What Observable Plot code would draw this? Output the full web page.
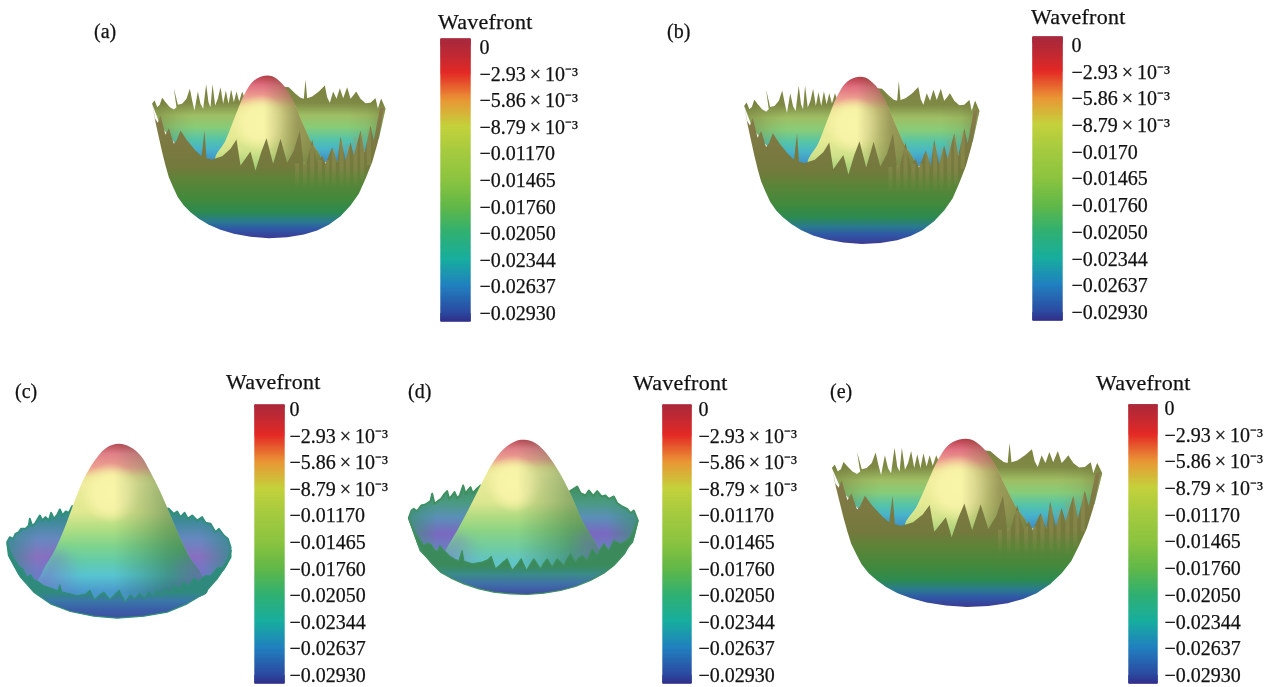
<!DOCTYPE html>
<html><head><meta charset="utf-8">
<script src="https://cdn.jsdelivr.net/npm/d3@7"></script>
<script src="https://cdn.jsdelivr.net/npm/@observablehq/plot@0.6"></script>
<style>
html,body{margin:0;background:#fff;overflow:hidden}
#page{position:relative;width:1277px;height:687px;font-family:"Liberation Serif",serif;color:#111}
#page svg{position:absolute;overflow:visible;background:none}
#page svg.cb g[aria-label="rect"]{filter:blur(0.6px)}
#page svg.cb g[aria-label="text"]{filter:blur(0.25px);stroke:#111;stroke-width:0.25px}
.t{position:absolute;white-space:nowrap;font-size:20px;line-height:20px;filter:blur(0.25px);-webkit-text-stroke:0.25px #111}
</style></head><body><div id="page"></div>
<script>
// colour bar
const tickValues=[0,-0.00293,-0.00586,-0.00879,-0.0117,-0.01465,-0.0176,-0.0205,-0.02344,-0.02637,-0.0293];
const sup="\u2009\u00d7\u200910\u207b\u00b3";
const tickLabels=["0","\u22122.93"+sup,"\u22125.86"+sup,"\u22128.79"+sup,"\u22120.01170","\u22120.01465","\u22120.01760","\u22120.02050","\u22120.02344","\u22120.02637","\u22120.02930"];
const tickLabelsB=tickLabels.map((d,i)=>i===4?"\u22120.0170":d);
const barStops=[0.0009,0.0002,-0.0012,-0.00293,-0.00586,-0.00879,-0.0117,-0.01465,-0.0176,-0.0205,-0.02344,-0.02637,-0.0293,-0.0302];
const barColors=["#a82c40","#ae2a3a","#c42a32","#e42a26","#ea9636","#c4d23c","#a4ca40","#8cc440","#62b848","#30b072","#18ae9e","#2180c0","#2c4aa0","#33338c"];

// panels a, b, e share this shape
const bowlBack=[[35,115],[42,105],[50,125],[58,118],[65,97],[75,110],[88,125],[100,132],[108,125],[100,68],[112,118],[125,115],[138,100],[148,70],[155,105],[162,135],[172,78],[180,115],[188,130],[197,56],[204,110],[210,125],[216,56],[224,120],[232,100],[240,65],[248,115],[256,75],[264,115],[272,72],[280,110],[288,78],[296,108],[305,78],[315,105],[325,75],[400,60],[445,65],[465,85],[480,97],[490,100],[495,42],[500,98],[515,93],[535,78],[553,60],[560,95],[568,112],[578,78],[588,100],[598,68],[608,98],[620,65],[630,100],[640,88],[647,78],[660,100],[675,113],[690,112],[705,98],[712,130],[722,100],[735,130],[715,220],[640,285],[400,300],[150,290],[60,180]];
const bowlHump=[[225,285],[255,225],[285,150],[310,90],[335,50],[365,32],[395,32],[425,55],[455,100],[485,170],[510,225],[540,285],[400,320]];
const bowlFront=[[35,115],[44,160],[52,172],[60,150],[75,208],[85,188],[100,235],[108,225],[120,195],[140,225],[165,255],[183,272],[192,195],[198,278],[215,282],[245,272],[270,250],[288,222],[300,300],[330,258],[345,315],[362,260],[378,218],[398,295],[420,220],[440,292],[460,255],[478,195],[490,300],[500,285],[515,222],[530,290],[545,270],[555,295],[575,245],[590,290],[600,212],[615,285],[630,230],[640,270],[660,195],[672,260],[690,180],[700,225],[718,130],[730,125],[722,180],[712,230],[695,290],[675,340],[655,385],[630,420],[600,452],[565,478],[530,495],[490,507],[440,515],[385,518],[330,514],[280,505],[240,493],[205,478],[175,460],[150,440],[130,420],[112,395],[98,365],[85,335],[75,300],[65,260],[55,215],[45,170]];
const bowlFins=[[470,295,370],[493,290,370],[515,240,370],[538,285,370],[560,285,370],[580,255,370],[603,230,370],[622,240,370],[645,215,370],[665,205,345],[685,195,300]];
const bowlBackStops=[[45,"#7d7f3f"],[112,"#7f8a45"],[150,"#9fbf64"],[185,"#88cc78"],[222,"#55c4a8"],[250,"#48b4c8"],[285,"#3f90c8"]];
const bowlHumpStops=[[32,"#b8404c"],[60,"#e07080"],[95,"#eea090"],[125,"#ece294"],[150,"#eeec9c"],[215,"#e6ea94"],[260,"#d0e28a"],[300,"#a8d078"]];
const bowlFrontStops=[[115,"#8a7a4c"],[300,"#74793c"],[345,"#5c8438"],[400,"#42893c"],[440,"#2c8a50"],[468,"#2a7a90"],[490,"#2f58a6"],[518,"#3c3a94"]];
const bowlShade=[[370,0],[420,0.22],[470,0.5],[540,0.6]];
const bowlEdge=[[35,0.55],[110,0.15],[160,0],[620,0],[680,0.15],[735,0.55]];
const finFade=[[200,0.3],[300,0.3],[370,0]];

// panel c
const hatBackC=[[20,320],[28,305],[38,310],[45,295],[55,290],[62,280],[75,280],[85,270],[88,250],[95,272],[105,262],[118,240],[125,255],[135,245],[145,255],[152,232],[160,250],[170,238],[178,222],[186,240],[196,228],[205,232],[215,212],[350,200],[505,220],[520,235],[530,228],[540,245],[552,232],[562,250],[575,240],[590,255],[605,245],[615,262],[630,265],[645,290],[655,280],[670,300],[682,310],[690,335],[690,365],[670,400],[620,455],[350,510],[100,460],[55,415],[25,360]];
const hatHumpC=[[105,470],[125,410],[165,340],[195,270],[225,190],[255,120],[290,65],[320,35],[355,25],[390,35],[420,60],[450,110],[480,170],[510,240],[540,310],[570,370],[600,410],[620,470],[400,500],[200,500]];
const hatSkirtC=[[100,445],[125,405],[165,345],[300,400],[450,400],[570,365],[610,400],[620,440],[400,490],[250,490]];
const hatFrontC=[[20,325],[30,350],[42,372],[55,392],[68,402],[78,425],[90,418],[100,432],[112,438],[128,450],[150,458],[172,466],[178,448],[184,470],[205,474],[230,480],[255,476],[268,465],[282,492],[298,478],[310,470],[328,492],[342,478],[356,465],[374,498],[390,478],[402,490],[418,474],[432,488],[445,470],[458,482],[470,465],[482,478],[495,462],[508,472],[522,450],[535,462],[550,440],[565,452],[580,428],[595,438],[615,420],[630,422],[650,398],[668,395],[682,370],[692,345],[680,385],[650,430],[610,475],[560,505],[500,530],[430,542],[350,548],[280,542],[210,528],[150,505],[100,470],[60,425],[30,370]];
const hatBackStopsC=[[215,"#2f8f7a"],[260,"#3f8a9a"],[310,"#6688c0"],[365,"#8a70c0"],[420,"#6a80c8"],[470,"#5a90c8"]];
const hatHumpStopsC=[[25,"#b84a55"],[55,"#e08088"],[95,"#eda090"],[125,"#ece294"],[145,"#eeec9c"],[230,"#e0e890"],[280,"#b0de82"],[330,"#80d48c"],[375,"#64cca8"],[420,"#58c4d0"],[470,"#4a98cc"]];
const hatFrontStopsC=[[360,"#2f8a80"],[470,"#2f8a7c"],[495,"#3a78a8"],[520,"#3a60a8"],[548,"#4050a0"]];
const hatShadeC=[[340,0],[420,0.2],[500,0.42],[590,0.55]];
const hatEdgeC=[[20,0.85],[110,0],[600,0],[690,0.85]];
const hatSkirtStopsC=[[100,0.75],[150,0.45],[240,0],[500,0],[580,0.45],[620,0.75]];

// panel d
const hatBackD=[[25,262],[33,240],[40,235],[48,242],[55,235],[62,225],[75,222],[90,212],[95,190],[102,220],[112,212],[122,205],[132,190],[140,182],[146,205],[155,195],[162,185],[170,203],[178,195],[188,165],[195,190],[203,178],[210,170],[216,188],[226,178],[240,165],[370,150],[505,185],[515,178],[530,168],[540,188],[555,195],[565,180],[578,196],[590,182],[603,198],[615,195],[625,205],[640,198],[650,218],[665,228],[680,235],[690,248],[700,240],[712,270],[695,335],[640,395],[600,430],[370,470],[120,420],[60,360]];
const hatHumpD=[[115,410],[135,360],[170,300],[205,235],[240,165],[275,100],[310,55],[345,32],[372,28],[405,38],[435,65],[470,115],[510,190],[545,270],[590,345],[610,390],[400,440],[200,440]];
const hatSkirtD=[[100,380],[135,350],[165,310],[300,360],[450,350],[560,300],[595,345],[625,385],[400,450],[250,450]];
const hatFrontD=[[25,265],[35,288],[45,310],[58,328],[70,345],[82,338],[92,342],[102,358],[112,362],[118,345],[130,360],[145,375],[160,385],[175,392],[185,360],[190,392],[215,400],[245,395],[262,388],[272,378],[285,415],[302,400],[320,385],[335,420],[350,402],[362,385],[378,420],[390,400],[400,385],[420,415],[430,398],[440,385],[455,410],[470,385],[490,405],[500,385],[510,370],[525,395],[535,382],[545,375],[560,390],[575,355],[590,375],[600,355],[610,340],[625,360],[640,330],[660,340],[675,332],[690,320],[712,270],[700,320],[672,370],[640,405],[610,428],[570,450],[525,468],[480,480],[430,488],[380,492],[330,490],[280,485],[235,475],[190,460],[150,442],[120,425],[95,400],[70,370],[52,340],[38,300]];
const hatBackStopsD=[[170,"#3f9060"],[215,"#4a9a80"],[260,"#5a90b8"],[310,"#7a68c0"],[350,"#6a80c0"],[400,"#5aa0c8"]];
const hatHumpStopsD=[[28,"#b84a55"],[55,"#e08088"],[85,"#eca090"],[112,"#ece294"],[130,"#eeec9c"],[215,"#dce690"],[255,"#b4dc82"],[300,"#8cd484"],[350,"#70cca0"],[395,"#60c4c8"]];
const hatFrontStopsD=[[260,"#3f8a5a"],[405,"#3a8a5c"],[432,"#3a8a8a"],[460,"#3f70a8"],[490,"#3f4fa0"]];
const hatShadeD=[[350,0],[430,0.2],[510,0.4],[590,0.5]];
const hatEdgeD=[[25,0.85],[110,0],[620,0],[712,0.85]];
const hatSkirtStopsD=[[100,0.7],[150,0.42],[240,0],[500,0],[570,0.42],[625,0.7]];

const bowl={back:bowlBack,hump:bowlHump,front:bowlFront,fins:bowlFins,backS:bowlBackStops,humpS:bowlHumpStops,frontS:bowlFrontStops,shade:bowlShade,shadeColor:"#4a4a18",edge:bowlEdge,edgeColor:"#74793c",glow:[360,172,85],rim:null,dom:[750,540]};
const panels=[
 {id:"a",label:"(a)",lx:94,ly:21,shape:bowl,box:[140,65,250,180],bar:[441,470],tickY:[47,313],topV:0.0009,labels:tickLabels,tx:438,ty:12,lab:479},
 {id:"b",label:"(b)",lx:667,ly:21,shape:bowl,box:[731.6,65.7,252,185],bar:[1033,1062],tickY:[45,312],topV:0.0009,labels:tickLabelsB,tx:1031,ty:7,lab:1071},
 {id:"c",label:"(c)",lx:15,ly:381,shape:{back:hatBackC,hump:hatHumpC,skirt:hatSkirtC,skirtS:hatSkirtStopsC,front:hatFrontC,backS:hatBackStopsC,humpS:hatHumpStopsC,frontS:hatFrontStopsC,shade:hatShadeC,shadeColor:"#1f5a30",edge:hatEdgeC,edgeColor:"#3a8a90",glow:[330,172,90],rim:"#2f8f78",dom:[720,570]},box:[0,435,240,190],bar:[255,284],tickY:[409,675],topV:0.00045,labels:tickLabels,tx:226,ty:372,lab:289},
 {id:"d",label:"(d)",lx:408,ly:381,shape:{back:hatBackD,hump:hatHumpD,skirt:hatSkirtD,skirtS:hatSkirtStopsD,front:hatFrontD,backS:hatBackStopsD,humpS:hatHumpStopsD,frontS:hatFrontStopsD,shade:hatShadeD,shadeColor:"#1f5a30",edge:hatEdgeD,edgeColor:"#3f9078",glow:[340,160,85],rim:"#3f9060",dom:[735,570]},box:[400,430,245,190],bar:[663,691],tickY:[409,675],topV:0.00045,labels:tickLabels,tx:633,ty:373,lab:698},
 {id:"e",label:"(e)",lx:830,ly:381,shape:bowl,box:[818.2,428.3,289.5,186],bar:[1129,1157],tickY:[408,675],topV:0.00035,labels:tickLabels,tx:1096,ty:373,lab:1164}
];

const page=document.getElementById("page");
const place=(el,l,t)=>{el.style.left=l+"px";el.style.top=t+"px";page.appendChild(el);return el;};
const xy={x:d=>d[0],y:d=>d[1]};
const skirtColor="#7a6ac4";
function softened(index,scales,values,dimensions,context,next){
  const g=next(index,scales,values,dimensions,context);
  g.style.filter="blur(5px)";
  return g;
}
function gradDefs(id,s){
  return (index,scales)=>{
    const defs=d3.create("svg:defs");
    const lin=(name,stops)=>{
      const a=stops[0][0],b=stops[stops.length-1][0];
      const g=defs.append("linearGradient").attr("id",id+name).attr("gradientUnits","userSpaceOnUse")
        .attr("x1",0).attr("x2",0).attr("y1",scales.y(a)).attr("y2",scales.y(b));
      stops.forEach(([v,c])=>g.append("stop").attr("offset",(v-a)/(b-a)).attr("stop-color",c));
    };
    const hor=(name,stops,color)=>{
      const a=stops[0][0],b=stops[stops.length-1][0];
      const g=defs.append("linearGradient").attr("id",id+name).attr("gradientUnits","userSpaceOnUse")
        .attr("y1",0).attr("y2",0).attr("x1",scales.x(a)).attr("x2",scales.x(b));
      stops.forEach(([v,o])=>g.append("stop").attr("offset",(v-a)/(b-a)).attr("stop-color",color).attr("stop-opacity",o));
    };
    lin("back",s.backS);lin("hump",s.humpS);lin("front",s.frontS);
    hor("shade",s.shade,s.shadeColor);hor("edge",s.edge,s.edgeColor);
    if(s.skirt)hor("skirt",s.skirtS,skirtColor);
    if(s.fins){
      const a=finFade[0][0],b=finFade[finFade.length-1][0];
      const g=defs.append("linearGradient").attr("id",id+"fin").attr("gradientUnits","userSpaceOnUse")
        .attr("x1",0).attr("x2",0).attr("y1",scales.y(a)).attr("y2",scales.y(b));
      finFade.forEach(([v,o])=>g.append("stop").attr("offset",(v-a)/(b-a)).attr("stop-color","#a0a060").attr("stop-opacity",o));
    }
    const [cx,cy,r]=s.glow;
    const rg=defs.append("radialGradient").attr("id",id+"glow").attr("gradientUnits","userSpaceOnUse")
      .attr("cx",scales.x(cx)).attr("cy",scales.y(cy)).attr("r",Math.abs(scales.x(r)-scales.x(0)));
    [[0,1],[0.55,0.9],[1,0]].forEach(([o,a])=>rg.append("stop").attr("offset",o).attr("stop-color","#f8f4a8").attr("stop-opacity",a));
    return defs.node();
  };
}
for(const p of panels){
  const s=p.shape,[l,t,w,h]=p.box,u=`g${p.id}`;
  const surf=Plot.plot({width:w,height:h,margin:0,axis:null,
    x:{domain:[0,s.dom[0]],range:[0,w]},y:{domain:[s.dom[1],0],range:[h,0]},
    marks:[
      gradDefs(u,s),
      Plot.line(s.back,{...xy,curve:"linear-closed",fill:`url(#${u}back)`,stroke:s.rim||"none",strokeWidth:s.rim?2:0}),
      Plot.line(s.back,{...xy,curve:"linear-closed",fill:`url(#${u}edge)`,stroke:"none"}),
      Plot.line(s.hump,{...xy,curve:"catmull-rom-closed",fill:`url(#${u}hump)`,stroke:"none"}),
      Plot.line(s.hump,{...xy,curve:"catmull-rom-closed",fill:`url(#${u}glow)`,stroke:"none"}),
      Plot.line(s.hump,{...xy,curve:"catmull-rom-closed",fill:`url(#${u}shade)`,stroke:"none"}),
      s.skirt?Plot.line(s.skirt,{...xy,curve:"catmull-rom-closed",fill:`url(#${u}skirt)`,stroke:"none",render:softened}):null,
      Plot.line(s.front,{...xy,curve:"linear-closed",fill:`url(#${u}front)`,stroke:s.rim||"none",strokeWidth:s.rim?1.2:0}),
      s.fins?Plot.ruleX(s.fins,{x:d=>d[0],y1:d=>d[1],y2:d=>d[2],stroke:`url(#${u}fin)`,strokeWidth:4}):null
    ]});
  surf.style.filter="blur(0.7px)";
  place(surf,l,t);

  const steps=barStops.flatMap((v,i)=>i?d3.range(24).map(k=>barStops[i-1]+(v-barStops[i-1])*(k+1)/24):[v]).filter(v=>v<=p.topV);
  const bar=d3.pairs([p.topV,...steps]);
  const [y0,y1]=p.tickY;
  const H=y1-y0;
  const cb=Plot.plot({width:p.bar[1]-p.bar[0],height:H,margin:0,axis:null,
    x:{domain:[0,1]},y:{domain:[-0.0293,0],range:[H,0]},
    color:{type:"linear",domain:barStops,range:barColors,clamp:true},
    marks:[
      Plot.rect(bar,{x1:0,x2:1,y1:d=>d[0],y2:d=>d[1],fill:d=>(d[0]+d[1])/2,stroke:d=>(d[0]+d[1])/2,strokeWidth:1}),
      Plot.text(tickValues,{x:1,y:d=>d,text:(d,i)=>p.labels[i],textAnchor:"start",dx:p.lab-p.bar[1],
        fontSize:20,fontFamily:"Liberation Serif",fill:"#111"})
    ]});
  cb.classList.add("cb");
  place(cb,p.bar[0],y0);

  const a=document.createElement("div");a.className="t";a.textContent=p.label;place(a,p.lx,p.ly);
  const b=document.createElement("div");b.className="t";b.textContent="Wavefront";b.style.fontSize="22px";b.style.letterSpacing="0.25px";place(b,p.tx,p.ty);
}
</script></body></html>
